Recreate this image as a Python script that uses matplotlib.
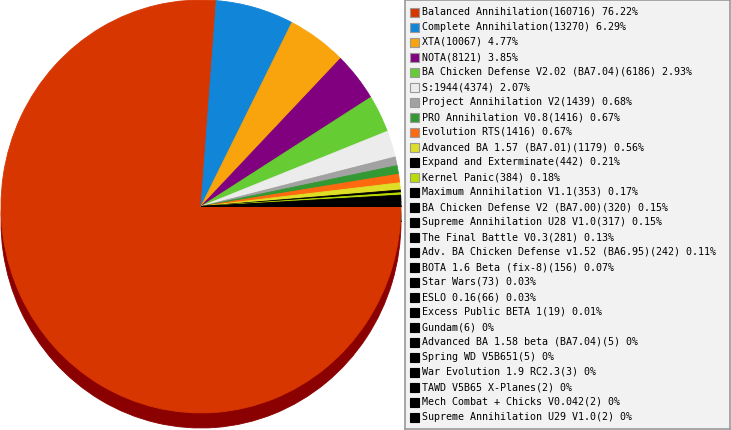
import matplotlib
matplotlib.use("Agg")
import matplotlib.pyplot as plt
from matplotlib.patches import Rectangle
from matplotlib.colors import to_rgb

names = [
    "Balanced Annihilation", "Complete Annihilation", "XTA", "NOTA",
    "BA Chicken Defense V2.02 (BA7.04)", "S:1944", "Project Annihilation V2",
    "PRO Annihilation V0.8", "Evolution RTS", "Advanced BA 1.57 (BA7.01)",
    "Expand and Exterminate", "Kernel Panic", "Maximum Annihilation V1.1",
    "BA Chicken Defense V2 (BA7.00)", "Supreme Annihilation U28 V1.0",
    "The Final Battle V0.3", "Adv. BA Chicken Defense v1.52 (BA6.95)",
    "BOTA 1.6 Beta (fix-8)", "Star Wars", "ESLO 0.16", "Excess Public BETA 1",
    "Gundam", "Advanced BA 1.58 beta (BA7.04)", "Spring WD V5B651",
    "War Evolution 1.9 RC2.3", "TAWD V5B65 X-Planes", "Mech Combat + Chicks V0.042",
    "Supreme Annihilation U29 V1.0",
]
counts = [160716, 13270, 10067, 8121, 6186, 4374, 1439, 1416, 1416, 1179,
          442, 384, 353, 320, 317, 281, 242, 156, 73, 66, 19,
          6, 5, 5, 3, 2, 2, 2]
colors = ["#d83600", "#1186d8", "#f9a40c", "#800080", "#66cc33", "#ececec",
          "#a2a2a2", "#339933", "#ff6a10", "#dede26", "#000000", "#bbdd00"] + ["#000000"] * 16

total = sum(counts)
labels = [f"{n}({c}) {round(c / total * 100, 2):g}%" for n, c in zip(names, counts)]

W, H = 731, 430
fig = plt.figure(figsize=(W / 100, H / 100), dpi=100)

# pie with dropped shadow -------------------------------------------------
shadow_dy = 0.073
ax = fig.add_axes([1 / W, (H - 428) / H, 400 / W, 428 / H])
shadow_colors = [tuple(v * 0.64 for v in to_rgb(c)) for c in colors]
shadow_colors[0] = "#8b0000"
sh, _ = ax.pie(counts, colors=shadow_colors, startangle=0, counterclock=False,
               center=(0, -shadow_dy), radius=1)
wedges, _ = ax.pie(counts, colors=colors, startangle=0, counterclock=False,
                   center=(0, 0), radius=1)
for w in sh + wedges:
    w.set_edgecolor(w.get_facecolor())
    w.set_linewidth(0.6)
ax.set_aspect("auto")
ax.set_xlim(-1, 1)
ax.set_ylim(-1 - shadow_dy, 1)
ax.axis("off")

# legend box ---------------------------------------------------------------
lx0, lx1, ly0, ly1 = 405, 730, 0, 429
lax = fig.add_axes([lx0 / W, (H - ly1) / H, (lx1 - lx0) / W, (ly1 - ly0) / H])
lax.set_xlim(0, lx1 - lx0)
lax.set_ylim(ly1 - ly0, 0)
lax.set_facecolor("#f2f2f2")
for s in lax.spines.values():
    s.set_color("#999999")
    s.set_linewidth(1.2)
lax.set_xticks([])
lax.set_yticks([])

for i, (lab, col) in enumerate(zip(labels, colors)):
    yc = 12 + 15 * i
    lax.add_patch(Rectangle((5, yc - 4.5), 9, 9, facecolor=col,
                            edgecolor="#999999" if col != "#000000" else "#000000",
                            linewidth=0.8))
    lax.text(17.5, yc, lab, family="DejaVu Sans Mono", fontsize=7.2,
             va="center", ha="left", color="black")

fig.savefig("out.png", dpi=100)
